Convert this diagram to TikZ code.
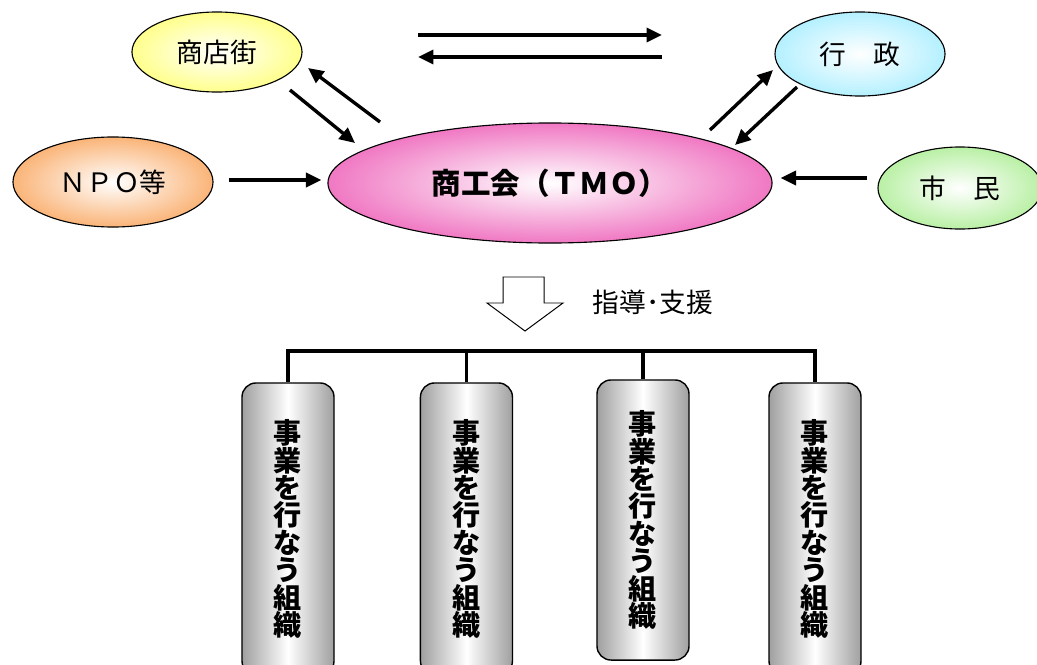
\documentclass[tikz,border=0pt]{standalone}
\usepackage{fontspec}
\setmainfont{Noto Sans CJK JP}
\usetikzlibrary{arrows.meta, positioning, shapes.geometric}
\usepackage{xcolor}
\definecolor{kiiro}{RGB}{255, 255, 140}
\definecolor{daidai}{RGB}{250, 180, 120}
\definecolor{momo}{RGB}{240, 120, 195}
\definecolor{mizu}{RGB}{180, 240, 255}
\definecolor{midori}{RGB}{185, 240, 165}
\tikzset{
  daen/.style={
    draw, ellipse, line width=0.8pt, inner sep=0pt,
    font=\fontsize{19}{21}\selectfont, shading=radial, inner color=white
  },
  daenShoten/.style={daen, outer color=kiiro, minimum width=4.25cm, minimum height=2.0cm},
  daenNPO/.style={daen, outer color=daidai, minimum width=5.0cm, minimum height=2.25cm},
  daenTMO/.style={daen, outer color=momo, minimum width=11.1cm, minimum height=3.0cm,
    font=\fontsize{21}{23}\selectfont\bfseries},
  daenGyosei/.style={daen, outer color=mizu, minimum width=4.25cm, minimum height=2.1cm},
  daenShimin/.style={daen, outer color=midori, minimum width=4.1cm, minimum height=2.05cm},
  soshiki/.style={
    draw, line width=1pt, rounded corners=10pt, minimum width=2.3cm, minimum height=7.3cm,
    left color=gray!75, right color=gray!75, middle color=white,
    font=\fontsize{20}{19.5}\selectfont\bfseries, align=center, inner sep=0pt
  },
  yajirushi/.style={-{Triangle[length=11pt, width=10pt]}, line width=2.4pt},
  eda/.style={line width=2.4pt},
}

\begin{document}
\begin{tikzpicture}[x=0.025cm, y=-0.025cm]
        \clip (0,0) rectangle (1037,664);

        \node[daenTMO]    (tmo)    at (550,183) {商工会（ＴＭＯ）};
        \node[daenShoten] (shoten) at (217,52)  {商店街};
        \node[daenNPO]    (npo)    at (113,182) {ＮＰＯ等};
        \node[daenGyosei] (gyosei) at (860,54)  {行　政};
        \node[daenShimin] (shimin) at (960,188) {市　民};

        \coordinate (sa) at (418,35);
        \coordinate (sb) at (662,35);
        \coordinate (ua) at (662,57);
        \coordinate (ub) at (418,57);

        \draw[yajirushi] (sa) -- (sb);
        \draw[yajirushi] (ua) -- (ub);
        \draw[yajirushi] ([shift={(163,70)}]shoten.center) -- ([shift={(91,16)}]shoten.center);
        \draw[yajirushi] ([shift={(73,38)}]shoten.center) -- ([shift={(138,91)}]shoten.center);
        \draw[yajirushi] ([shift={(15,-2)}]npo.east) -- ([shift={(-6,-3)}]tmo.west);
        \draw[yajirushi] ([shift={(-150,76)}]gyosei.center) -- ([shift={(-87,16)}]gyosei.center);
        \draw[yajirushi] ([shift={(-63,33)}]gyosei.center) -- ([shift={(-125,91)}]gyosei.center);
        \draw[yajirushi] ([shift={(-10,-10)}]shimin.west) -- ([shift={(8,-5)}]tmo.east);

        % hollow arrow
        \node[font=\fontsize{19}{21}\selectfont, anchor=west] (shien) at (588,302) {指導･支援};
        \draw[line width=0.7pt, fill=white] (503,277) -- (544,277) -- (544,303) -- (563,303)
          -- (525,331) -- (487,303) -- (503,303) -- cycle;

        \node[soshiki] (box1) at (288,529) {事\\業\\を\\行\\な\\う\\組\\織};
        \node[soshiki, right=2.125cm of box1] (box2) {事\\業\\を\\行\\な\\う\\組\\織};
        \node[soshiki, minimum height=7.0cm] (box3) at (643,520) {事\\業\\を\\行\\な\\う\\組\\織};
        \node[soshiki] (box4) at (815,529) {事\\業\\を\\行\\な\\う\\組\\織};

        \coordinate (bar) at (0,351);
        \draw[eda] (box1.north) -- (box1.north |- bar) -- (box4.north |- bar) -- (box4.north);
        \draw[eda] (box2.north) -- (box2.north |- bar);
        \draw[eda] (box3.north) -- (box3.north |- bar);
      \end{tikzpicture}
\end{document}
